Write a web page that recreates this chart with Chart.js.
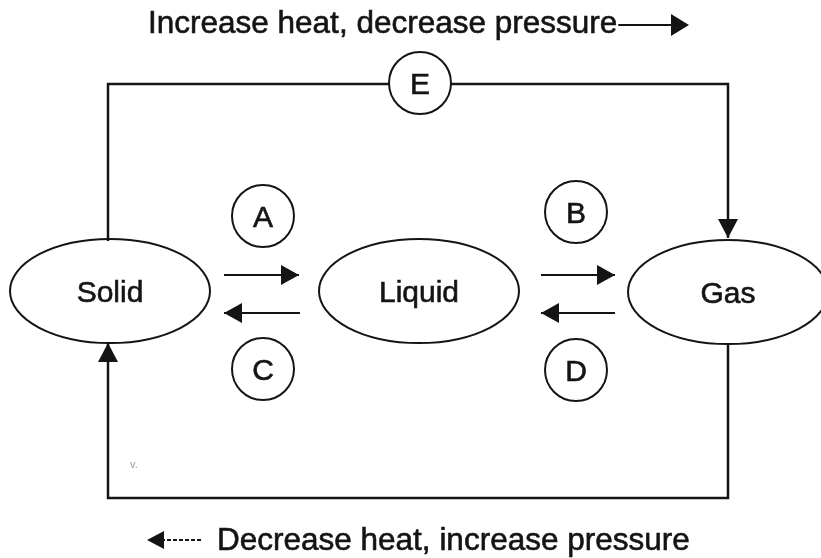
<!DOCTYPE html>
<html>
<head>
<meta charset="utf-8">
<script src="https://cdn.jsdelivr.net/npm/chart.js@4.4.1/dist/chart.umd.min.js"></script>
<style>
    body { margin: 0; background: #fff; }
    #wrap { width: 821px; height: 558px; position: relative; }
</style>
</head>
<body>
<div id="wrap"><canvas id="phaseChart"></canvas></div>
<script>
// states of matter (ellipses)
const states = ['Solid', 'Liquid', 'Gas'];
const stateX = [110, 419, 728];
const stateY = [291, 291, 292];

// lettered steps (circles)
const steps = ['A', 'B', 'C', 'D', 'E'];
const stepX = [263, 576, 263, 576, 420];
const stepY = [216, 212, 369, 370, 83];

// short arrows between neighbouring states
const arrowStartX = [224, 541, 300, 615];
const arrowEndX = [299, 615, 224, 541];
const arrowY = [275, 275, 313, 313];

// big loop, solid -> gas over the top, gas -> solid along the bottom
const loopTopX = [108, 108, 728, 728];
const loopTopY = [241, 84, 84, 238];
const loopBottomX = [728, 728, 108, 108];
const loopBottomY = [345, 498, 498, 343];

const captions = ['Increase heat, decrease pressure', 'Decrease heat, increase pressure'];
const captionX = [148, 217];
const captionY = [33, 550];

const ink = '#141414';
const font = '"Liberation Sans", Arial, sans-serif';

function toPoints(xs, ys){
    return xs.map((x, i) => ({x: x, y: ys[i]}));
}

function head(ctx, x1, y1, x2, y2, len, half){
    const a = Math.atan2(y2 - y1, x2 - x1);
    ctx.beginPath();
    ctx.moveTo(x2, y2);
    ctx.lineTo(x2 - len * Math.cos(a) + half * Math.sin(a), y2 - len * Math.sin(a) - half * Math.cos(a));
    ctx.lineTo(x2 - len * Math.cos(a) - half * Math.sin(a), y2 - len * Math.sin(a) + half * Math.cos(a));
    ctx.closePath();
    ctx.fill();
}

// scanned text looks a bit heavier than plain Arial
function inkText(ctx, txt, x, y){
    ctx.fillText(txt, x, y);
    ctx.strokeText(txt, x, y);
}

const diagramPlugin = {
    id: 'diagram',
    beforeDraw(chart){
        const ctx = chart.ctx;
        ctx.save();
        ctx.fillStyle = '#fff';
        ctx.fillRect(0, 0, chart.width, chart.height);
        ctx.restore();
    },
    beforeDatasetsDraw(chart){
        const ctx = chart.ctx;
        const xs = chart.scales.x, ys = chart.scales.y;
        ctx.save();
        ctx.strokeStyle = ink;
        ctx.lineWidth = 2;
        for(let i = 0; i < states.length; i++){
            const cx = xs.getPixelForValue(stateX[i]);
            const cy = ys.getPixelForValue(stateY[i]);
            const rx = xs.getPixelForValue(stateX[i] + 100) - cx;
            const ry = ys.getPixelForValue(stateY[i] + 52) - cy;
            ctx.beginPath();
            ctx.ellipse(cx, cy, Math.abs(rx), Math.abs(ry), 0, 0, Math.PI * 2);
            ctx.stroke();
        }
        ctx.restore();
    },
    afterDatasetsDraw(chart){
        const ctx = chart.ctx;
        const xs = chart.scales.x, ys = chart.scales.y;
        const px = v => xs.getPixelForValue(v);
        const py = v => ys.getPixelForValue(v);
        ctx.save();
        ctx.fillStyle = ink;
        ctx.strokeStyle = ink;

        // arrow heads on the short arrows
        for(let i = 0; i < arrowY.length; i++){
            head(ctx, px(arrowStartX[i]), py(arrowY[i]), px(arrowEndX[i]), py(arrowY[i]), 18, 10);
        }
        // arrow heads on the loop
        let n = loopTopX.length - 1;
        head(ctx, px(loopTopX[n - 1]), py(loopTopY[n - 1]), px(loopTopX[n]), py(loopTopY[n]), 19, 10);
        n = loopBottomX.length - 1;
        head(ctx, px(loopBottomX[n - 1]), py(loopBottomY[n - 1]), px(loopBottomX[n]), py(loopBottomY[n]), 19, 10);

        // state names
        ctx.lineWidth = 0.6;
        ctx.textAlign = 'center';
        ctx.textBaseline = 'alphabetic';
        ctx.font = '30px ' + font;
        for(let i = 0; i < states.length; i++){
            inkText(ctx, states[i], px(stateX[i]), py(stateY[i]) + 11);
        }
        // step letters
        for(let i = 0; i < steps.length; i++){
            inkText(ctx, steps[i], px(stepX[i]), py(stepY[i]) + 11);
        }

        // captions with their direction arrows
        ctx.textAlign = 'left';
        ctx.font = '31.5px ' + font;
        inkText(ctx, captions[0], px(captionX[0]), py(captionY[0]));
        const w0 = ctx.measureText(captions[0]).width;
        ctx.lineWidth = 2;
        ctx.beginPath();
        ctx.moveTo(px(captionX[0]) + w0 + 1, py(25));
        ctx.lineTo(px(678), py(25));
        ctx.stroke();
        head(ctx, px(620), py(25), px(689), py(25), 18, 11);

        ctx.lineWidth = 0.6;
        inkText(ctx, captions[1], px(captionX[1]), py(captionY[1]));
        ctx.lineWidth = 2;
        ctx.setLineDash([4, 2]);
        ctx.beginPath();
        ctx.moveTo(px(201), py(540));
        ctx.lineTo(px(158), py(540));
        ctx.stroke();
        ctx.setLineDash([]);
        head(ctx, px(201), py(540), px(147), py(540), 17, 9);

        // scanner speck
        ctx.fillStyle = '#999';
        ctx.font = '11px ' + font;
        ctx.fillText('v.', px(130), py(468));
        ctx.restore();
    }
};

const lineStyle = {
    type: 'line',
    showLine: true,
    borderColor: ink,
    borderWidth: 2.5,
    pointRadius: 0,
    tension: 0,
    fill: false,
    clip: false,
    order: 2
};

const datasets = [
    {
        type: 'scatter',
        label: 'steps',
        data: toPoints(stepX, stepY),
        pointRadius: 31,
        pointHoverRadius: 31,
        pointStyle: 'circle',
        backgroundColor: '#fff',
        borderColor: ink,
        borderWidth: 2,
        clip: false,
        order: 0
    },
    Object.assign({label: 'loop top', data: toPoints(loopTopX, loopTopY)}, lineStyle),
    Object.assign({label: 'loop bottom', data: toPoints(loopBottomX, loopBottomY)}, lineStyle)
];
for(let i = 0; i < arrowY.length; i++){
    datasets.push(Object.assign({}, lineStyle, {
        label: 'arrow ' + i,
        borderWidth: 2,
        data: [{x: arrowStartX[i], y: arrowY[i]}, {x: arrowEndX[i], y: arrowY[i]}],
        order: 1
    }));
}

new Chart(document.getElementById('phaseChart'), {
    type: 'scatter',
    data: { datasets: datasets },
    options: {
        responsive: true,
        maintainAspectRatio: false,
        animation: false,
        layout: { padding: 0, autoPadding: false },
        scales: {
            x: { type: 'linear', min: 0, max: 821, display: false },
            y: { type: 'linear', min: 0, max: 558, reverse: true, display: false }
        },
        plugins: {
            legend: { display: false },
            tooltip: { enabled: false }
        },
        events: []
    },
    plugins: [diagramPlugin]
});
</script>
</body>
</html>
